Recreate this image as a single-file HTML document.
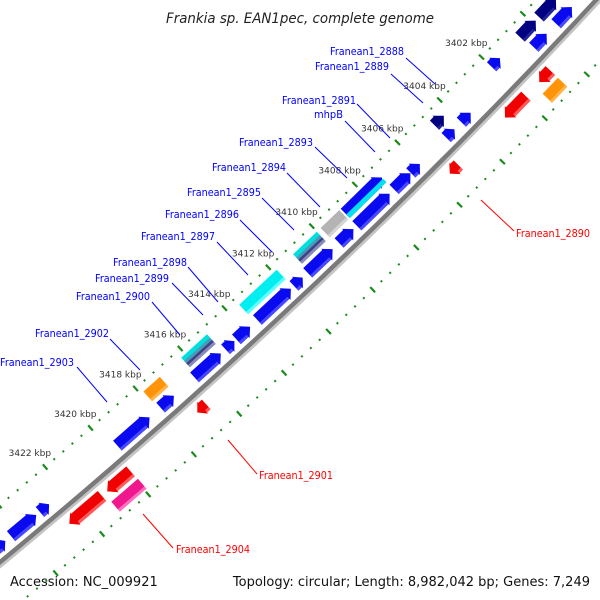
<!DOCTYPE html>
<html><head><meta charset="utf-8"><title>Frankia sp. EAN1pec genome map</title>
<style>
html,body{margin:0;padding:0;background:#fff;width:600px;height:600px;overflow:hidden;}
svg{display:block;}
text{font-family:"DejaVu Sans","Liberation Sans",sans-serif;}
</style></head>
<body>
<svg id="map" width="600" height="600" viewBox="0 0 600 600" xmlns="http://www.w3.org/2000/svg" overflow="hidden">
<rect x="0" y="0" width="600" height="600" fill="#fff"/>
<text x="300" y="23" text-anchor="middle" font-size="14" font-style="italic" fill="#222" textLength="268" lengthAdjust="spacingAndGlyphs">Frankia sp. EAN1pec, complete genome</text>
<g id="rings"></g>
<g id="genes"></g>
<g id="labels"></g>
<text x="10" y="586" font-size="13" fill="#111">Accession: NC_009921</text>
<text x="590" y="586" font-size="13" fill="#111" text-anchor="end">Topology: circular; Length: 8,982,042 bp; Genes: 7,249</text>
</svg>
<script>
// ---- data ----
const tickKbp = [3396,3398,3400,3402,3404,3406,3408,3410,3412,3414,3416,3418,3420,3422,3424,3426,3428];
const tickLabelKbp = [3402,3404,3406,3408,3410,3412,3414,3416,3418,3420,3422];
const geneStart = [3398.72,3399.94,3403.58,3404.35,3405.98,3406.42,3407.39,3409.07,3410.03,3411.40,3411.94,3413.79,3414.50,3415.11,3417.21,3418.29,3422.70,3423.26,3424.60,
  3398.89,3399.87,3401.60,3404.28,3407.19,3408.97,3410.01,3411.85,3415.02,3417.14,
  3400.74,3401.91,3405.10,3416.60,3419.94,3421.19,
  3400.74,3419.92];
const geneEnd = [3399.48,3400.56,3404.02,3404.74,3406.40,3407.18,3408.91,3409.73,3411.17,3411.80,3413.46,3414.41,3414.90,3416.29,3417.80,3419.71,3423.10,3424.35,3425.00,
  3399.71,3400.63,3402.00,3404.72,3408.90,3409.83,3411.10,3413.56,3416.18,3417.87,
  3401.27,3402.90,3405.50,3417.00,3420.96,3422.61,
  3401.47,3421.08];
const geneTrack = [1,1,1,1,1,1,1,1,1,1,1,1,1,1,1,1,1,1,1,
  2,2,2,2,2,2,2,2,2,2,
  -1,-1,-1,-1,-1,-1,
  -2,-2];
const geneColor = ['blue','blue','blue','blue','blue','blue','blue','blue','blue','blue','blue','blue','blue','blue','blue','blue','blue','blue','blue',
  'navy','navy','blue','navy','bluecyan','gray','striped','cyan','striped','orange',
  'red','red','red','red','red','red',
  'orange','pink'];
const geneShape = ['L','L','L','L','L','L','L','L','L','L','L','L','L','L','L','L','L','L','L',
  'L','L','L','L','L','B','B','B','B','B',
  'R','R','R','R','R','R',
  'B','B'];
const labelText = ['Franean1_2888','Franean1_2889','Franean1_2891','mhpB','Franean1_2893','Franean1_2894','Franean1_2895','Franean1_2896','Franean1_2897','Franean1_2898','Franean1_2899','Franean1_2900','Franean1_2902','Franean1_2903','Franean1_2890','Franean1_2901','Franean1_2904'];

// ---- axis functions ----
const CX=-3918, CY=-4190, R0=6159, RT=6115, RL=6203;
const K0=3402, TH0=43.99, DEG_PER_KBP=0.2806;
function theta(k){return (TH0+(k-K0)*DEG_PER_KBP)*Math.PI/180;}
function pos(k,r){const t=theta(k);return [CX+r*Math.cos(t),CY+r*Math.sin(t)];}
function trackR(tr){return {1:R0-13,2:R0-30,'-1':R0+15,'-2':R0+32}[tr];}

const NS='http://www.w3.org/2000/svg';
const rings=document.getElementById('rings');
const genesG=document.getElementById('genes');
const labelsG=document.getElementById('labels');
function mk(tag,attrs,parent){const e=document.createElementNS(NS,tag);for(const k in attrs)e.setAttribute(k,attrs[k]);parent.appendChild(e);return e;}
function arcPath(r,k1,k2){let d='';for(let k=k1;k<=k2;k+=0.5){const p=pos(k,r);d+=(d?'L':'M')+p[0].toFixed(1)+' '+p[1].toFixed(1);}return d;}

// backbone
let bb2=mk('path',{d:arcPath(R0+3.5,3394,3428),fill:'none',stroke:'#c4c4c4','stroke-width':3},rings);


let bb=mk('path',{d:arcPath(R0,3394,3428),fill:'none',stroke:'#7a7a7a','stroke-width':4.5},rings);



// dotted rings
[RT,RL].forEach((r,ri)=>{
  for(let i=Math.round(3396/0.4);i<=Math.round(3428/0.4);i++){
    const k=i*0.4;
    const t=theta(k);const ux=Math.cos(t),uy=Math.sin(t);
    const p=pos(k,r);
    const major=Math.abs(k/2-Math.round(k/2))<1e-6;
    const h=major?3.5:1;
    const l=mk('line',{x1:p[0]-ux*h,y1:p[1]-uy*h,x2:p[0]+ux*h,y2:p[1]+uy*h,stroke:'#1a8a1a','stroke-width':major?2.2:2},rings);
    
    
  }
});
tickLabelKbp.forEach(k=>{
  const p=pos(k,RT);
  const tx=mk('text',{x:p[0]+6,y:p[1]-11,'text-anchor':'end','font-size':9,fill:'#333'},rings);
  tx.textContent=k+' kbp';
  
  
});

// genes
const palette={
  blue:['#0a0af0','#4848ff'],navy:['#000080','#22229a'],red:['#f00000','#ff5a5a'],
  orange:['#ff9408','#ffb54a'],pink:['#f0188c','#ff70c0'],gray:['#b4b4b4','#d4d4d4'],
  cyan:['#00eef0','#60ffff'],bluecyan:['#0a0af0','#00e0f0'],striped:['#00dede','#8a8ab8']
};
function pt(p,t,n,a,b){return [p[0]+t[0]*a+n[0]*b,p[1]+t[1]*a+n[1]*b];}
function poly(pts){return pts.map(q=>q[0].toFixed(1)+','+q[1].toFixed(1)).join(' ');}
for(let i=0;i<geneStart.length;i++){
  const r=trackR(geneTrack[i]);
  const p1=pos(geneStart[i],r),p2=pos(geneEnd[i],r);
  let tx=p2[0]-p1[0],ty=p2[1]-p1[1];const L=Math.hypot(tx,ty);tx/=L;ty/=L;
  const th=theta((geneStart[i]+geneEnd[i])/2);const n=[Math.cos(th),Math.sin(th)];const t=[tx,ty];
  const hw=6.5,hh=Math.min(8,L*0.6),hx=1.5;
  const g=mk('g',{},genesG);
  
  
  const col=palette[geneColor[i]];
  let main,strip;
  if(geneShape[i]==='L'){
    main=[p1,pt(p1,t,n,hh,hw+hx),pt(p1,t,n,hh,hw),pt(p1,t,n,L,hw),pt(p1,t,n,L,-hw),pt(p1,t,n,hh,-hw),pt(p1,t,n,hh,-hw-hx)];
    strip=[pt(p1,t,n,hh,hw),pt(p1,t,n,L,hw),pt(p1,t,n,L,hw-3),pt(p1,t,n,hh,hw-3)];
  }else if(geneShape[i]==='R'){
    main=[pt(p1,t,n,0,-hw),pt(p1,t,n,0,hw),pt(p1,t,n,L-hh,hw),pt(p1,t,n,L-hh,hw+hx),p2,pt(p1,t,n,L-hh,-hw-hx),pt(p1,t,n,L-hh,-hw)];
    strip=[pt(p1,t,n,0,hw),pt(p1,t,n,L-hh,hw),pt(p1,t,n,L-hh,hw-3),pt(p1,t,n,0,hw-3)];
  }else{
    main=[pt(p1,t,n,0,-hw),pt(p1,t,n,L,-hw),pt(p1,t,n,L,hw),pt(p1,t,n,0,hw)];
    strip=[pt(p1,t,n,0,hw),pt(p1,t,n,L,hw),pt(p1,t,n,L,hw-3),pt(p1,t,n,0,hw-3)];
  }
  mk('polygon',{points:poly(main),fill:col[0]},g);
  if(geneColor[i]==='striped'){
    mk('polygon',{points:poly([pt(p1,t,n,0,-2),pt(p1,t,n,L,-2),pt(p1,t,n,L,1),pt(p1,t,n,0,1)]),fill:'#4a9ab8'},g);
    mk('polygon',{points:poly([pt(p1,t,n,0,1),pt(p1,t,n,L,1),pt(p1,t,n,L,4),pt(p1,t,n,0,4)]),fill:'#404088'},g);
  }
  if(geneColor[i]==='bluecyan'){
    mk('polygon',{points:poly([pt(p1,t,n,0,hw),pt(p1,t,n,L,hw),pt(p1,t,n,L,hw-5),pt(p1,t,n,0,hw-5)]),fill:col[1]},g);
  }else{
    mk('polygon',{points:poly(strip),fill:col[1]},g);
  }
}

// labels (annotation positions)
const labelPos=[[404,55,406,58,435,84],[389,70,391,74,423,103],[356,104,357,104,390,138],[343,118,345,121,375,152],
 [313,146,315,147,347,178],[286,171,287,173,320,207],[261,196,262,198,294,230],[239,218,240,220,272,252],
 [215,240,217,242,248,275],[187,266,188,267,218,302],[169,282,172,283,203,315],[150,300,152,302,180,335],
 [109,337,110,339,140,370],[74,366,77,367,107,402],[516,237,481,200,514,231],[259,479,228,440,257,474],[176,553,143,514,173,548]];
labelText.forEach((s,i)=>{
  const lp=labelPos[i];const red=i>=14;const c=red?'#ff0000':'#0000ff';
  const ln=mk('line',{x1:lp[2],y1:lp[3],x2:lp[4],y2:lp[5],stroke:c,'stroke-width':1},labelsG);
  
  
  const w=s==='mhpB'?29:74;
  const tx=mk('text',{x:lp[0],y:lp[1],'text-anchor':red?'start':'end','font-size':10.5,fill:c,textLength:w,lengthAdjust:'spacingAndGlyphs'},labelsG);
  tx.textContent=s;
  
  
});
</script>
</body></html>
